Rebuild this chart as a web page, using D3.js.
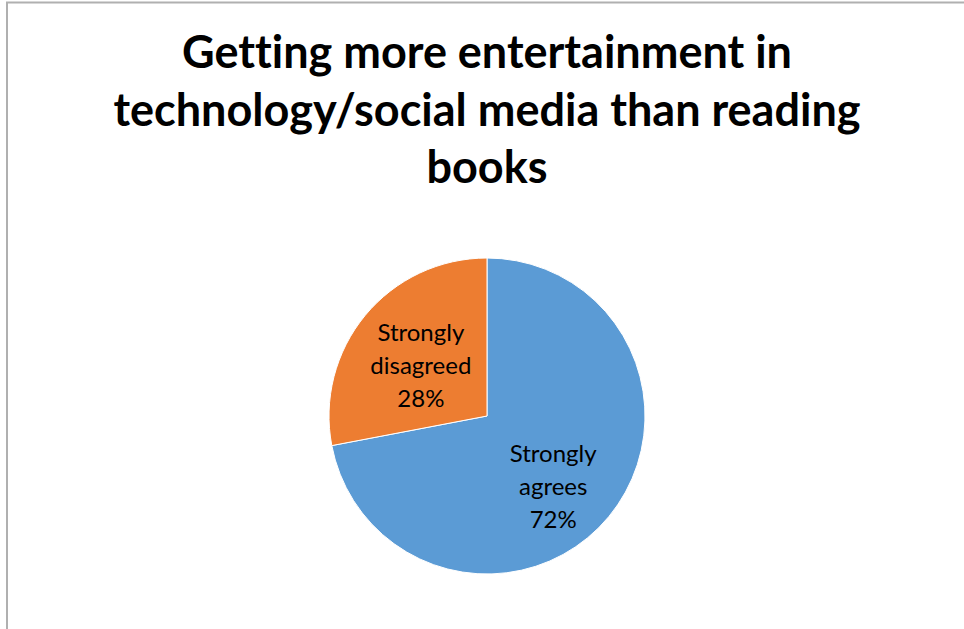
<!DOCTYPE html>
<html>
<head>
<meta charset="utf-8">
<script src="https://cdn.jsdelivr.net/npm/d3@7"></script>
<style>
  body { margin: 0; background: #fff; }
  text { font-variant-ligatures: none; font-feature-settings: "liga" 0; }
</style>
</head>
<body>
<div id="container"></div>
<script>
// Data
const categories = ["Strongly agrees", "Strongly disagreed"];
const values = [72, 28];
const colors = ["#5B9BD5", "#ED7D31"];
const titleLines = [
  "Getting more entertainment in",
  "technology/social media than reading",
  "books"
];

const w = 964;
const h = 629;
const cx = 487;
const cy = 416;
const r = 158;
// nudges so the labels sit where Excel put them
const labelNudge = [[-2, 15], [2, 6]];

let svg = d3
  .select("#container")
  .append("svg")
  .attr("width", w)
  .attr("height", h);

// chart border (only top and left show)
svg
  .append("rect")
  .attr("x", 7)
  .attr("y", 2.5)
  .attr("width", w + 20)
  .attr("height", h + 20)
  .attr("fill", "none")
  .attr("stroke", "#b0b0b0")
  .attr("stroke-width", 2);

// Title
let title = svg
  .append("g")
  .attr("font-family", "Lato, 'Open Sans', sans-serif")
  .attr("font-weight", "bold")
  .attr("font-size", 40)
  .attr("text-anchor", "middle");

title
  .selectAll("text")
  .data(titleLines)
  .enter()
  .append("text")
  .attr("x", 487)
  .attr("y", (d, i) => 68 + i * 57.5)
  .text((d) => d);

// shrink title so the first line is about as wide as in the picture
let firstLen = title.select("text").node().getComputedTextLength();
title.attr("font-size", 40 * 610 / firstLen);

//Pie
const pie = d3
  .pie()
  .sort(null)
  .startAngle(0)
  .endAngle(2 * Math.PI)
  .value((d) => d);

const arcs = pie(values);
const arc = d3.arc().innerRadius(0).outerRadius(r);
const labelArc = d3.arc().innerRadius(r * 0.56).outerRadius(r * 0.56);

let g = svg.append("g").attr("transform", "translate(" + cx + "," + cy + ")");

g.selectAll("path")
  .data(arcs)
  .enter()
  .append("path")
  .attr("d", arc)
  .attr("fill", (d, i) => colors[i])
  .attr("stroke", "#fff")
  .attr("stroke-width", 1);

// Labels
let labels = g
  .selectAll(".label")
  .data(arcs)
  .enter()
  .append("text")
  .attr("class", "label")
  .attr("font-family", "Lato, 'Open Sans', sans-serif")
  .attr("font-size", 24)
  .attr("fill", "#000")
  .attr("text-anchor", "middle")
  .attr("transform", (d, i) => {
    let c = labelArc.centroid(d);
    return "translate(" + (c[0] + labelNudge[i][0]) + "," + (c[1] + labelNudge[i][1]) + ")";
  });

labels.each(function (d, i) {
  let words = categories[i].split(" ");
  let lines = [words[0], words[1], values[i] + "%"];
  d3.select(this)
    .selectAll("tspan")
    .data(lines)
    .enter()
    .append("tspan")
    .attr("x", 0)
    .attr("y", (t, j) => (j - 1) * 33 + 8)
    .text((t) => t);
});
</script>
</body>
</html>
